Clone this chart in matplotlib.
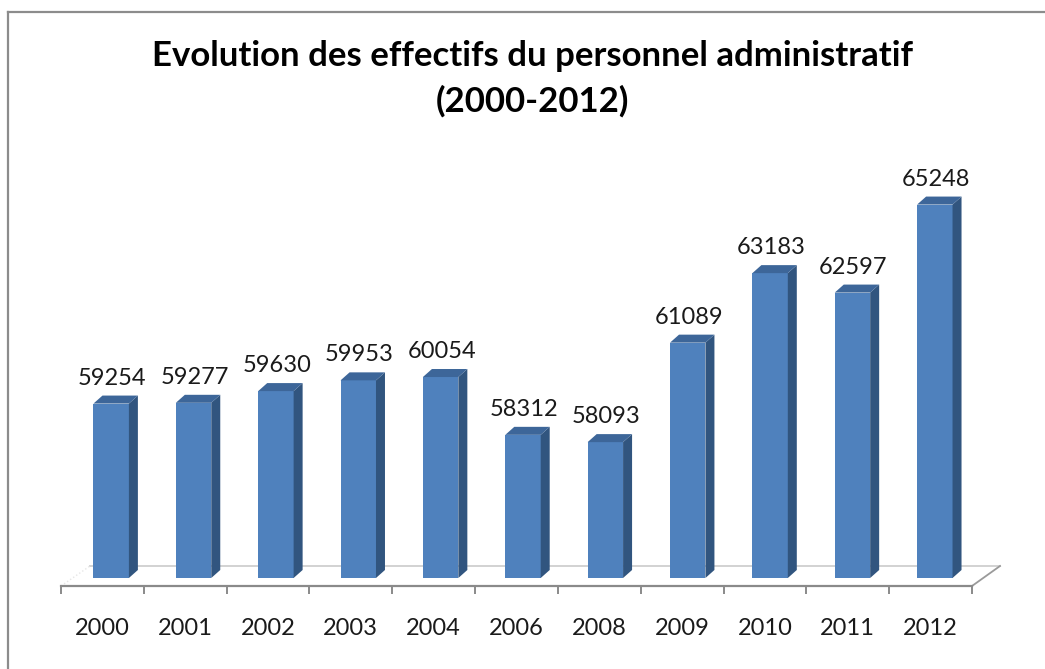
import numpy as np
import matplotlib
matplotlib.use('Agg')
import matplotlib.pyplot as plt
from matplotlib.patches import Polygon
from matplotlib.lines import Line2D
from matplotlib.transforms import IdentityTransform

# data
years = ['2000', '2001', '2002', '2003', '2004', '2006', '2008', '2009', '2010', '2011', '2012']
effectifs = [59254, 59277, 59630, 59953, 60054, 58312, 58093, 61089, 63183, 62597, 65248]
base = 54000

title_1 = 'Evolution des effectifs du personnel administratif'
title_2 = '(2000-2012)'

plt.rcParams['font.family'] = ['Lato', 'DejaVu Sans']

W, H = 1045, 669
fig = plt.figure(figsize=(W / 100, H / 100), dpi=100)
fig.patch.set_facecolor('white')


def rect(left, right, bottom, top):
    # pixel box (y measured from top) -> figure fraction
    return [left / W, 1 - bottom / H, (right - left) / W, (bottom - top) / H]


front_c = '#4F81BD'
side_c = '#31557F'
top_c = '#3D6699'
x = np.arange(len(years))

# floor / category axis
axf = fig.add_axes(rect(61, 972, 586, 566))
axf.set_xlim(-0.5, len(years) - 0.5)
axf.set_ylim(0, 1)
axf.patch.set_alpha(0)
for s in ['top', 'left', 'right']:
    axf.spines[s].set_visible(False)
axf.spines['bottom'].set_color('#8a8a8a')
axf.spines['bottom'].set_linewidth(1.6)
axf.set_yticks([])
axf.set_xticks(np.arange(-0.5, len(years)), [''] * (len(years) + 1))
axf.set_xticks(x, years, minor=True)
axf.tick_params(axis='x', which='major', length=5.8, width=1.4, color='#8a8a8a')
axf.tick_params(axis='x', which='minor', length=0, pad=23, labelsize=17, labelcolor='#1a1a1a')
sx0, sx1 = 29 / 911, 1 + 28 / 911
axf.add_line(Line2D([sx0, sx1], [1, 1], transform=axf.transAxes, color='#cfcfcf', lw=1.3, clip_on=False))
axf.add_line(Line2D([1, sx1], [0, 1], transform=axf.transAxes, color='#9a9a9a', lw=1.3, clip_on=False))
axf.add_line(Line2D([0, sx0], [0, 1], transform=axf.transAxes, color='#e6e6e6', lw=1, ls=':', clip_on=False))

# bars
ax = fig.add_axes(rect(70, 976, 578, 150))
ax.set_xlim(-0.5, len(years) - 0.5)
ax.set_ylim(base, base + (578 - 150) / 0.0332)
ax.axis('off')
w = 0.43
vals = np.array(effectifs)
ax.bar(x, vals - base, bottom=base, width=w, color=front_c, zorder=3)

dx, dy = 9, 8
for i, v in zip(x, vals):
    xl, yb = ax.transData.transform((i - w / 2, base))
    xr, yt = ax.transData.transform((i + w / 2, v))
    side = Polygon([(xr, yb), (xr + dx, yb + dy), (xr + dx, yt + dy), (xr, yt)],
                   closed=True, transform=IdentityTransform(), facecolor=side_c,
                   edgecolor='none', zorder=2)
    top = Polygon([(xl, yt), (xr, yt), (xr + dx, yt + dy), (xl + dx, yt + dy)],
                  closed=True, transform=IdentityTransform(), facecolor=top_c,
                  edgecolor='none', zorder=2)
    fig.add_artist(side)
    fig.add_artist(top)
    ax.annotate(str(v), (i, v), xytext=(1, 15), textcoords='offset pixels',
                ha='center', va='bottom', fontsize=17, color='#1a1a1a',
                annotation_clip=False)

# titles
fig.text(532 / W, 1 - 66 / H, title_1, ha='center', va='baseline',
         fontsize=25, fontweight='bold', color='black')
fig.text(532 / W, 1 - 112 / H, title_2, ha='center', va='baseline',
         fontsize=25, fontweight='bold', color='black')

# chart frame (only top and left edges show)
fig.add_artist(Line2D([8 / W, 8 / W], [0, 1 - 12 / H], transform=fig.transFigure, color='#8c8c8c', lw=1.6))
fig.add_artist(Line2D([8 / W, 1], [1 - 12 / H, 1 - 12 / H], transform=fig.transFigure, color='#8c8c8c', lw=1.6))

fig.savefig('out.png', dpi=100)
